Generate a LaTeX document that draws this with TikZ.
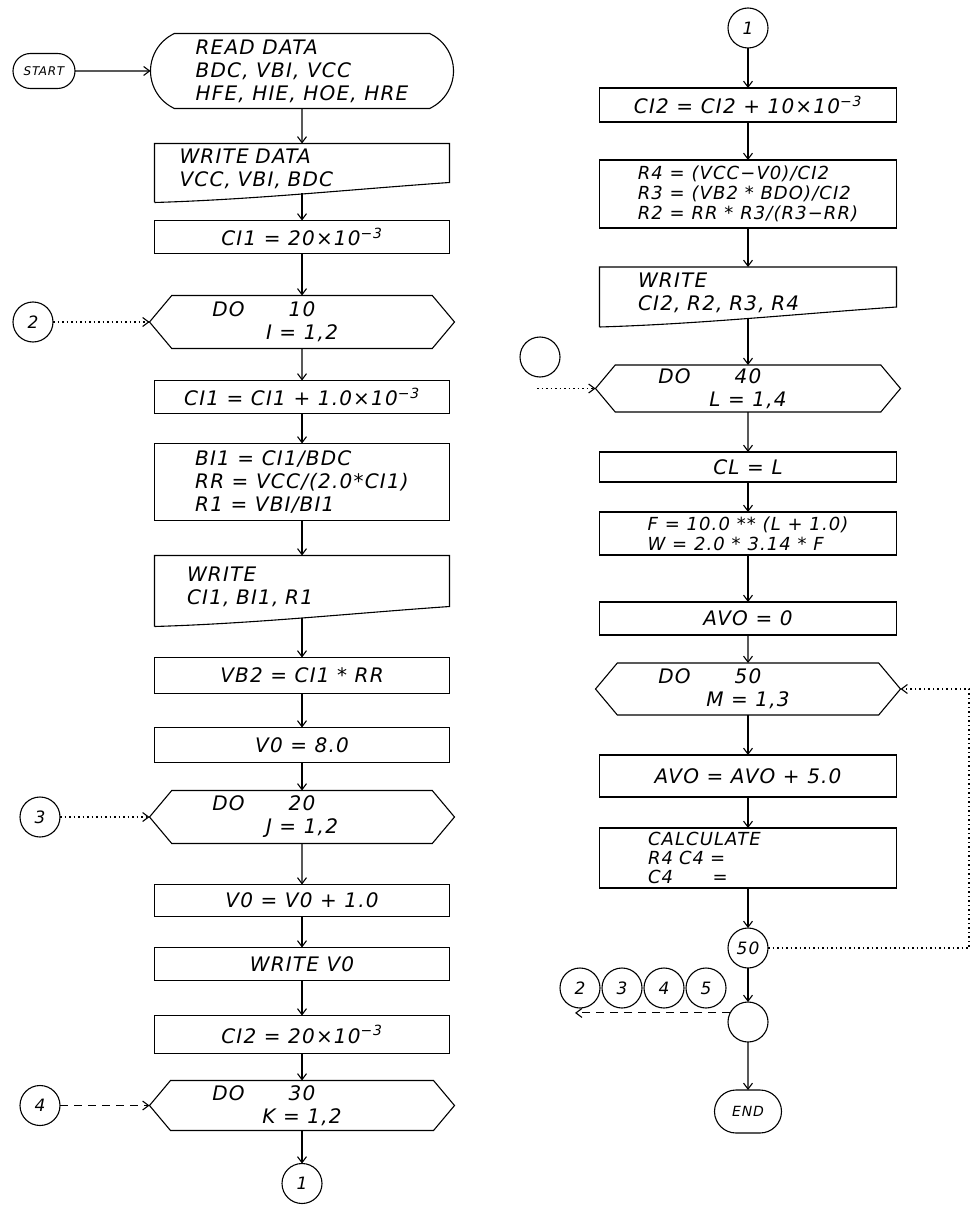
\documentclass[tikz,border=0pt]{standalone}
\usepackage{fontspec}
\setmainfont{DejaVu Sans}[LetterSpace=6]
\usetikzlibrary{positioning,shapes.misc,shapes.symbols,arrows.meta}

% output box: straight top and sides, wavy bottom through the south anchor
\newcommand\docedge[1]{%
  \draw ([yshift=-9pt]#1.south west) -- (#1.north west) -- (#1.north east) -- ([yshift=11pt]#1.south east)
    .. controls ([xshift=-100pt,yshift=4pt]#1.south east) and ([xshift=100pt,yshift=-6pt]#1.south west) .. ([yshift=-9pt]#1.south west);}

\begin{document}
\begin{tikzpicture}[x=1pt,y=-1pt,>={Straight Barb[length=6pt,width=9pt]},line width=1.1pt,
  font=\itshape\fontsize{20}{23}\selectfont,
  calcbox/.style={draw,rectangle,minimum width=295pt,inner sep=3pt,outer sep=0pt},
  iobox/.style={rectangle,minimum width=295pt,inner sep=3pt,outer sep=0pt,text width=245pt,align=left},
  dobox/.style={draw,signal,signal to=west and east,signal pointer angle=100,minimum width=305pt,inner sep=2pt,outer sep=0pt,align=center},
  termbox/.style={draw,rounded rectangle,inner sep=3pt,outer sep=0pt},
  connector/.style={draw,circle,minimum size=40pt,inner sep=0pt,outer sep=0pt,font=\itshape\fontsize{17}{19}\selectfont},
  link/.style={->,dash pattern=on 1.5pt off 3pt},
  longlink/.style={->,dash pattern=on 8pt off 6pt}]
\useasboundingbox (0,0) rectangle (974,1206);

% left column
\node[termbox,minimum width=68pt,minimum height=35pt,font=\itshape\fontsize{12}{14}\selectfont] (start) at (44,71) {START};
\node[termbox,rounded rectangle arc length=130,minimum width=309pt,minimum height=75pt,align=left] (read) at (302,71) {READ DATA\\BDC, VBI, VCC\\HFE, HIE, HOE, HRE};
\node[iobox,minimum height=50pt,below=35pt of read] (wdata) {WRITE DATA\\VCC, VBI, BDC};
\node[calcbox,minimum height=33pt,below=27pt of wdata] (ci1) {CI1 = 20×10\textsuperscript{−3}};
\node[dobox,minimum height=53pt,below=42pt of ci1] (do10) {\llap{DO\hspace{2.2em}}10\\I = 1,2};
\node[calcbox,minimum height=33pt,below=32pt of do10] (ci1inc) {CI1 = CI1 + 1.0×10\textsuperscript{−3}};
\node[calcbox,minimum height=77pt,below=30pt of ci1inc,align=left] (bi1) {BI1 = CI1/BDC\\RR = VCC/(2.0*CI1)\\R1 = VBI/BI1};
\node[iobox,minimum height=62pt,below=35pt of bi1,text width=230pt] (wci1) {WRITE\\CI1, BI1, R1};
\node[calcbox,minimum height=36pt,below=40pt of wci1] (vb2) {VB2 = CI1 * RR};
\node[calcbox,minimum height=35pt,below=34pt of vb2] (v0) {V0 = 8.0};
\node[dobox,minimum height=53pt,below=28pt of v0] (do20) {\llap{DO\hspace{2.2em}}20\\J = 1,2};
\node[calcbox,minimum height=32pt,below=41pt of do20] (v0inc) {V0 = V0 + 1.0};
\node[calcbox,minimum height=33pt,below=31pt of v0inc] (wv0) {WRITE V0};
\node[calcbox,minimum height=38pt,below=35pt of wv0] (ci2) {CI2 = 20×10\textsuperscript{−3}};
\node[dobox,minimum height=50pt,below=27pt of ci2] (do30) {\llap{DO\hspace{2.2em}}30\\K = 1,2};
\node[connector,below=33pt of do30] (c1) {1};
\docedge{wdata} \docedge{wci1}

\node[connector] (c2) at (33,0 |- do10.west) {2};
\node[connector] (c3) at (40,0 |- do20.west) {3};
\node[connector] (c4) at (40,0 |- do30.west) {4};

\draw[->] (start) -- (read); \draw[->] (read) -- (wdata); \draw[->] (wdata) -- (ci1);
\draw[->] (ci1) -- (do10); \draw[->] (do10) -- (ci1inc); \draw[->] (ci1inc) -- (bi1);
\draw[->] (bi1) -- (wci1); \draw[->] (wci1) -- (vb2); \draw[->] (vb2) -- (v0);
\draw[->] (v0) -- (do20); \draw[->] (do20) -- (v0inc); \draw[->] (v0inc) -- (wv0);
\draw[->] (wv0) -- (ci2); \draw[->] (ci2) -- (do30); \draw[->] (do30) -- (c1);
\draw[link] (c2) -- (do10.west); \draw[link] (c3) -- (do20.west);
\draw[longlink] (c4) -- (do30.west);

% right column
\node[connector] (c1r) at (748,28) {1};
\node[calcbox,minimum width=297pt,minimum height=34pt,below=40pt of c1r] (ci2inc) {CI2 = CI2 + 10×10\textsuperscript{−3}};
\node[calcbox,minimum width=297pt,minimum height=68pt,below=38pt of ci2inc,align=left,font=\itshape\fontsize{18}{20}\selectfont] (r4) {R4 = (VCC−V0)/CI2\\R3 = (VB2 * BDO)/CI2\\R2 = RR * R3/(R3−RR)};
\node[iobox,minimum width=297pt,minimum height=51pt,below=39pt of r4,text width=220pt] (wci2) {WRITE\\CI2, R2, R3, R4};
\node[dobox,minimum height=47pt,below=47pt of wci2] (do40) {\llap{DO\hspace{2.2em}}40\\L = 1,4};
\node[calcbox,minimum width=297pt,minimum height=30pt,below=40pt of do40] (cl) {CL = L};
\node[calcbox,minimum width=297pt,minimum height=43pt,below=30pt of cl,align=left,font=\itshape\fontsize{18}{20}\selectfont] (fw) {F = 10.0 ** (L + 1.0)\\W = 2.0 * 3.14 * F};
\node[calcbox,minimum width=297pt,minimum height=33pt,below=47pt of fw] (avo0) {AVO = 0};
\node[dobox,minimum height=52pt,below=28pt of avo0] (do50) {\llap{DO\hspace{2.2em}}50\\M = 1,3};
\node[calcbox,minimum width=297pt,minimum height=42pt,below=40pt of do50] (avoinc) {AVO = AVO + 5.0};
\node[calcbox,minimum width=297pt,minimum height=60pt,below=31pt of avoinc,text width=200pt,align=left,font=\itshape\fontsize{18}{19}\selectfont] (calc) {CALCULATE\\R4 C4 =\\C4\hspace{2.2em}=};
\node[connector,below=40pt of calc] (c50) {50};
\node[connector,below=34pt of c50] (cjoin) {};
\node[termbox,minimum width=73pt,minimum height=43pt,below=48pt of cjoin,font=\itshape\fontsize{14}{16}\selectfont] (end) {END};
\docedge{wci2}

\node[connector] (c40) at (540,357) {};
\coordinate (c40in) at (537,0 |- do40.west);
\node[connector] (r2) at (580,988) {2};
\node[connector,right=2pt of r2] (r3) {3};
\node[connector,right=2pt of r3] (r4c) {4};
\node[connector,right=2pt of r4c] (r5) {5};
\coordinate (back) at (575,0 |- cjoin.153);

\draw[->] (c1r) -- (ci2inc); \draw[->] (ci2inc) -- (r4); \draw[->] (r4) -- (wci2);
\draw[->] (wci2) -- (do40); \draw[->] (do40) -- (cl); \draw[->] (cl) -- (fw);
\draw[->] (fw) -- (avo0); \draw[->] (avo0) -- (do50); \draw[->] (do50) -- (avoinc);
\draw[->] (avoinc) -- (calc); \draw[->] (calc) -- (c50); \draw[->] (c50) -- (cjoin);
\draw[->] (cjoin) -- (end);
\draw[link] (c40in) -- (do40.west);
\draw[link] (c50.east) -- ++(201,0) |- (do50.east);
\draw[longlink] (cjoin.153) -- (back);
\end{tikzpicture}
\end{document}
